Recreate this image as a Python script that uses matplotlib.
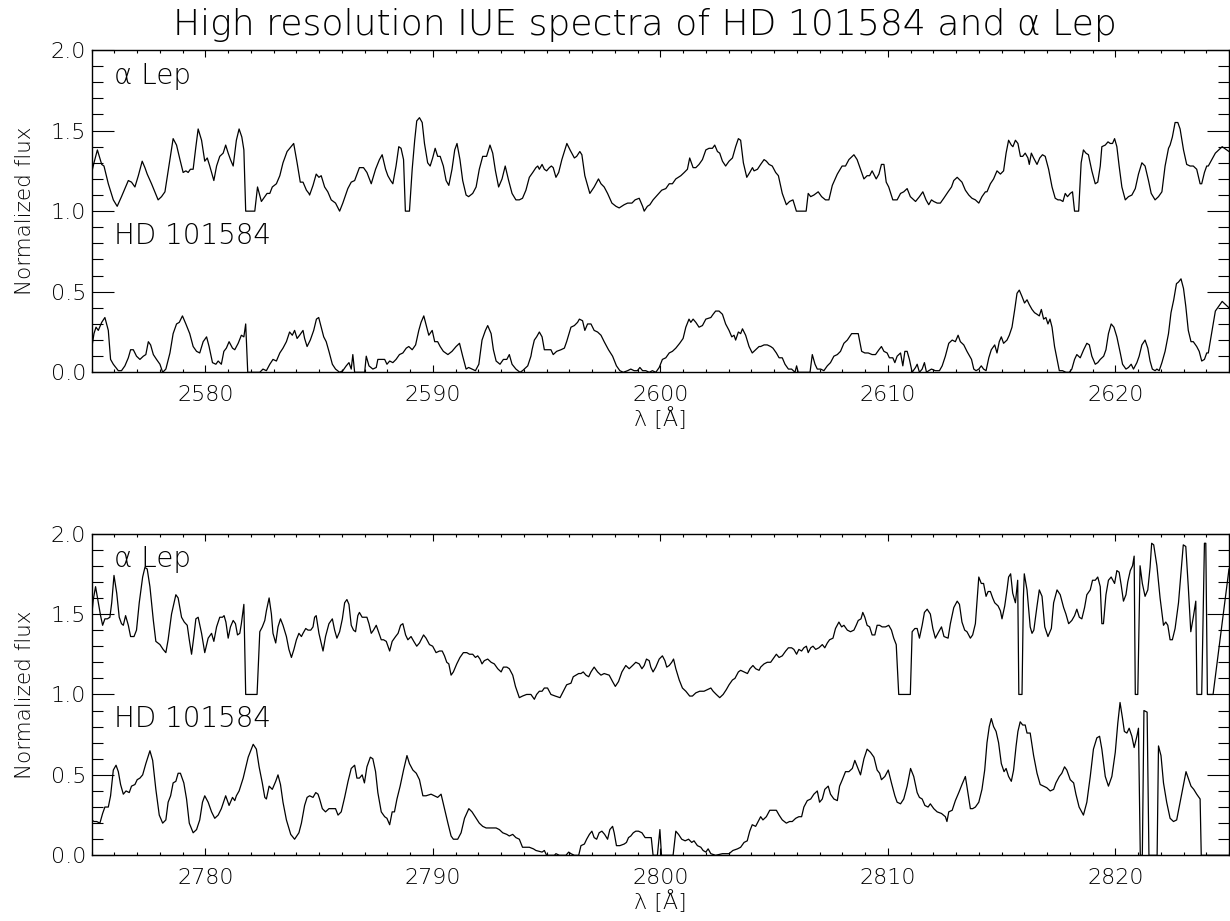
import numpy as np
import matplotlib
matplotlib.use("Agg")
import matplotlib.pyplot as plt
from matplotlib.ticker import MultipleLocator, FormatStrFormatter

# ---------------- text ----------------
title = "High resolution IUE spectra of HD 101584 and α Lep"
star_names = ["α Lep", "HD 101584"]
y_label = "Normalized flux"
x_label = "λ [Å]"
x_ranges = [(2575, 2625), (2775, 2825)]

# ---------------- data: (wavelength [Å], normalized flux) ----------------
alpha_lep_2600 = [
    (2575.00,1.24),(2575.10,1.30),(2575.25,1.38),(2575.44,1.29),(2575.54,1.28),(2575.73,1.17),(2575.95,1.07),(2576.12,1.03),
    (2576.31,1.09),(2576.61,1.19),(2576.75,1.18),(2576.90,1.15),(2577.05,1.22),(2577.22,1.31),(2577.34,1.27),(2577.44,1.23),
    (2577.63,1.17),(2577.92,1.07),(2578.07,1.09),(2578.22,1.12),(2578.44,1.32),(2578.58,1.45),(2578.73,1.41),(2578.88,1.32),
    (2579.02,1.24),(2579.14,1.25),(2579.24,1.24),(2579.34,1.26),(2579.46,1.26),(2579.58,1.40),(2579.68,1.51),(2579.83,1.44),
    (2579.97,1.31),(2580.08,1.33),(2580.19,1.28),(2580.37,1.19),(2580.49,1.28),(2580.63,1.34),(2580.78,1.36),(2580.89,1.41),
    (2581.00,1.36),(2581.10,1.32),(2581.22,1.28),(2581.36,1.44),(2581.48,1.51),(2581.60,1.46),(2581.69,1.38),(2581.77,1.00),
    (2582.17,1.00),(2582.29,1.15),(2582.46,1.06),(2582.61,1.09),(2582.71,1.11),(2582.83,1.11),(2582.94,1.15),(2583.12,1.17),
    (2583.27,1.22),(2583.41,1.30),(2583.59,1.37),(2583.88,1.42),(2584.03,1.30),(2584.17,1.18),(2584.29,1.18),(2584.44,1.13),
    (2584.55,1.11),(2584.58,1.10),(2584.73,1.16),(2584.87,1.23),(2584.99,1.21),(2585.09,1.22),(2585.24,1.15),(2585.38,1.12),
    (2585.53,1.07),(2585.72,1.05),(2585.90,1.00),(2586.04,1.05),(2586.26,1.14),(2586.41,1.18),(2586.56,1.19),(2586.77,1.27),
    (2586.95,1.27),(2587.10,1.24),(2587.29,1.17),(2587.48,1.26),(2587.65,1.32),(2587.77,1.35),(2587.92,1.26),(2588.02,1.22),
    (2588.14,1.19),(2588.24,1.17),(2588.38,1.28),(2588.50,1.40),(2588.60,1.39),(2588.71,1.32),(2588.79,1.00),(2588.97,1.00),
    (2589.09,1.26),(2589.20,1.44),(2589.29,1.56),(2589.41,1.58),(2589.53,1.55),(2589.63,1.42),(2589.77,1.30),(2589.88,1.28),
    (2589.99,1.33),(2590.10,1.39),(2590.21,1.34),(2590.32,1.34),(2590.46,1.28),(2590.58,1.19),(2590.70,1.16),(2590.84,1.26),
    (2590.96,1.38),(2591.06,1.42),(2591.19,1.32),(2591.31,1.19),(2591.46,1.10),(2591.57,1.09),(2591.75,1.11),(2591.90,1.15),
    (2592.04,1.26),(2592.19,1.34),(2592.36,1.34),(2592.51,1.41),(2592.63,1.36),(2592.75,1.25),(2592.89,1.15),(2593.04,1.20),
    (2593.18,1.28),(2593.33,1.19),(2593.48,1.11),(2593.65,1.07),(2593.80,1.07),(2593.94,1.08),(2594.09,1.13),(2594.24,1.21),
    (2594.39,1.24),(2594.53,1.27),(2594.61,1.28),(2594.68,1.26),(2594.80,1.29),(2594.90,1.26),(2595.00,1.25),(2595.12,1.27),
    (2595.21,1.28),(2595.29,1.27),(2595.41,1.21),(2595.53,1.24),(2595.67,1.32),(2595.89,1.42),(2596.03,1.38),(2596.22,1.33),
    (2596.32,1.34),(2596.46,1.37),(2596.55,1.35),(2596.68,1.22),(2596.90,1.11),(2597.09,1.15),(2597.28,1.20),(2597.39,1.17),
    (2597.53,1.15),(2597.68,1.11),(2597.87,1.05),(2598.05,1.03),(2598.19,1.02),(2598.41,1.04),(2598.56,1.05),(2598.75,1.05),
    (2598.89,1.07),(2599.07,1.08),(2599.22,1.03),(2599.29,1.00),(2599.43,1.03),(2599.54,1.04),(2599.68,1.07),(2599.87,1.10),
    (2600.06,1.13),(2600.24,1.14),(2600.39,1.17),(2600.53,1.17),(2600.68,1.20),(2600.90,1.22),(2601.05,1.24),(2601.19,1.26),
    (2601.29,1.33),(2601.44,1.27),(2601.56,1.27),(2601.70,1.29),(2601.85,1.32),(2602.00,1.38),(2602.14,1.39),(2602.29,1.39),
    (2602.39,1.41),(2602.51,1.37),(2602.61,1.36),(2602.73,1.31),(2602.87,1.28),(2603.02,1.31),(2603.17,1.33),(2603.31,1.40),
    (2603.43,1.45),(2603.53,1.44),(2603.65,1.30),(2603.80,1.21),(2603.93,1.24),(2604.05,1.27),(2604.12,1.25),(2604.27,1.26),
    (2604.41,1.29),(2604.56,1.32),(2604.66,1.31),(2604.78,1.29),(2604.92,1.28),(2605.07,1.24),(2605.19,1.22),(2605.36,1.11),
    (2605.54,1.04),(2605.68,1.06),(2605.83,1.07),(2605.98,1.00),(2606.41,1.00),(2606.50,1.11),(2606.61,1.09),(2606.75,1.10),
    (2606.94,1.12),(2607.09,1.09),(2607.26,1.07),(2607.41,1.07),(2607.56,1.16),(2607.78,1.23),(2607.99,1.28),(2608.14,1.28),
    (2608.29,1.32),(2608.51,1.35),(2608.65,1.32),(2608.80,1.26),(2608.95,1.20),(2609.09,1.22),(2609.20,1.22),(2609.31,1.25),
    (2609.49,1.20),(2609.61,1.23),(2609.72,1.29),(2609.83,1.29),(2609.93,1.18),(2610.04,1.15),(2610.22,1.07),(2610.41,1.07),
    (2610.56,1.11),(2610.70,1.12),(2610.85,1.14),(2610.99,1.09),(2611.22,1.06),(2611.39,1.09),(2611.54,1.12),(2611.68,1.07),
    (2611.80,1.04),(2611.92,1.07),(2612.02,1.06),(2612.17,1.05),(2612.31,1.05),(2612.46,1.08),(2612.65,1.12),(2612.80,1.15),
    (2612.90,1.19),(2613.05,1.21),(2613.26,1.18),(2613.41,1.13),(2613.56,1.10),(2613.70,1.08),(2613.85,1.07),(2614.00,1.05),
    (2614.14,1.09),(2614.29,1.12),(2614.36,1.12),(2614.51,1.17),(2614.65,1.20),(2614.80,1.25),(2614.95,1.23),(2615.09,1.25),
    (2615.20,1.36),(2615.31,1.44),(2615.43,1.41),(2615.50,1.40),(2615.61,1.44),(2615.72,1.42),(2615.83,1.34),(2615.93,1.34),
    (2616.04,1.36),(2616.16,1.33),(2616.22,1.29),(2616.31,1.36),(2616.41,1.33),(2616.56,1.29),(2616.68,1.33),(2616.80,1.35),
    (2616.92,1.34),(2617.07,1.26),(2617.22,1.15),(2617.36,1.08),(2617.48,1.07),(2617.58,1.07),(2617.70,1.06),(2617.80,1.11),
    (2617.90,1.09),(2618.02,1.11),(2618.12,1.12),(2618.21,1.00),(2618.39,1.00),(2618.50,1.30),(2618.60,1.38),(2618.71,1.36),
    (2618.82,1.35),(2618.97,1.25),(2619.12,1.17),(2619.23,1.18),(2619.34,1.28),(2619.41,1.40),(2619.56,1.41),(2619.68,1.43),
    (2619.78,1.42),(2619.88,1.42),(2619.97,1.45),(2620.07,1.40),(2620.17,1.28),(2620.29,1.15),(2620.44,1.07),(2620.58,1.09),
    (2620.73,1.10),(2620.88,1.14),(2621.02,1.23),(2621.17,1.30),(2621.31,1.28),(2621.46,1.19),(2621.58,1.11),(2621.75,1.07),
    (2621.90,1.09),(2622.05,1.12),(2622.19,1.28),(2622.34,1.39),(2622.41,1.41),(2622.51,1.46),(2622.63,1.55),(2622.75,1.55),
    (2622.85,1.51),(2623.00,1.38),(2623.14,1.29),(2623.29,1.28),(2623.43,1.28),(2623.58,1.26),(2623.73,1.17),(2623.80,1.17),
    (2623.92,1.24),(2624.02,1.28),(2624.09,1.28),(2624.40,1.36),(2624.70,1.40),(2625.00,1.37),
]

hd101584_2600 = [
    (2575.00,0.15),(2575.10,0.24),(2575.19,0.28),(2575.29,0.26),(2575.44,0.31),(2575.58,0.34),(2575.73,0.26),(2575.83,0.08),
    (2575.95,0.05),(2576.17,0.01),(2576.31,0.01),(2576.46,0.04),(2576.61,0.09),(2576.71,0.14),(2576.83,0.14),(2576.97,0.10),
    (2577.12,0.08),(2577.27,0.10),(2577.38,0.11),(2577.49,0.19),(2577.59,0.17),(2577.71,0.11),(2577.85,0.08),(2578.00,0.05),
    (2578.12,0.00),(2578.26,0.02),(2578.44,0.12),(2578.58,0.24),(2578.73,0.30),(2578.85,0.31),(2578.99,0.35),(2579.14,0.30),
    (2579.31,0.24),(2579.46,0.16),(2579.61,0.13),(2579.75,0.12),(2579.90,0.19),(2580.05,0.22),(2580.16,0.16),(2580.31,0.06),
    (2580.46,0.05),(2580.56,0.07),(2580.70,0.05),(2580.81,0.13),(2580.92,0.15),(2581.04,0.19),(2581.19,0.15),(2581.29,0.14),
    (2581.44,0.18),(2581.58,0.23),(2581.69,0.22),(2581.77,0.30),(2581.86,0.00),(2582.39,0.00),(2582.53,0.02),(2582.68,0.01),
    (2582.83,0.05),(2582.97,0.08),(2583.12,0.07),(2583.27,0.12),(2583.41,0.15),(2583.56,0.19),(2583.70,0.25),(2583.82,0.23),
    (2583.92,0.26),(2584.03,0.21),(2584.14,0.23),(2584.29,0.26),(2584.36,0.21),(2584.47,0.16),(2584.61,0.20),(2584.76,0.26),
    (2584.88,0.33),(2584.98,0.34),(2585.09,0.28),(2585.20,0.22),(2585.31,0.19),(2585.43,0.13),(2585.58,0.05),(2585.72,0.02),
    (2585.90,0.00),(2586.04,0.01),(2586.19,0.04),(2586.31,0.06),(2586.41,0.02),(2586.48,0.11),(2586.56,0.00),(2587.00,0.00),
    (2587.07,0.10),(2587.19,0.04),(2587.36,0.02),(2587.51,0.03),(2587.58,0.08),(2587.73,0.08),(2587.88,0.08),(2587.98,0.05),
    (2588.10,0.07),(2588.24,0.06),(2588.38,0.08),(2588.53,0.11),(2588.68,0.12),(2588.83,0.15),(2588.94,0.16),(2589.09,0.14),
    (2589.24,0.17),(2589.38,0.26),(2589.48,0.31),(2589.60,0.35),(2589.73,0.28),(2589.82,0.23),(2589.97,0.26),(2590.08,0.19),
    (2590.21,0.19),(2590.32,0.16),(2590.46,0.13),(2590.66,0.11),(2590.84,0.13),(2591.02,0.16),(2591.17,0.18),(2591.31,0.10),
    (2591.46,0.02),(2591.57,0.03),(2591.72,0.02),(2591.87,0.01),(2592.02,0.05),(2592.16,0.20),(2592.31,0.26),(2592.41,0.29),
    (2592.56,0.24),(2592.66,0.14),(2592.78,0.07),(2592.95,0.05),(2593.10,0.08),(2593.25,0.08),(2593.36,0.11),(2593.48,0.05),
    (2593.65,0.02),(2593.83,0.00),(2593.94,0.01),(2594.17,0.04),(2594.31,0.10),(2594.36,0.14),(2594.46,0.20),(2594.56,0.22),
    (2594.68,0.25),(2594.80,0.22),(2594.90,0.14),(2595.04,0.14),(2595.19,0.14),(2595.29,0.11),(2595.44,0.13),(2595.63,0.14),
    (2595.78,0.15),(2595.88,0.19),(2596.07,0.28),(2596.22,0.29),(2596.36,0.31),(2596.44,0.33),(2596.58,0.32),(2596.68,0.26),
    (2596.80,0.30),(2596.95,0.30),(2597.09,0.26),(2597.24,0.25),(2597.39,0.23),(2597.53,0.19),(2597.72,0.14),(2597.90,0.10),
    (2598.07,0.04),(2598.22,0.01),(2598.37,0.00),(2598.56,0.01),(2598.70,0.02),(2598.85,0.01),(2598.99,0.01),(2599.10,0.03),
    (2599.22,0.01),(2599.36,0.01),(2599.51,0.00),(2599.65,0.01),(2599.80,0.00),(2599.95,0.03),(2600.09,0.08),(2600.24,0.09),
    (2600.39,0.12),(2600.53,0.13),(2600.68,0.15),(2600.85,0.18),(2601.00,0.21),(2601.12,0.28),(2601.26,0.33),(2601.34,0.31),
    (2601.44,0.33),(2601.56,0.31),(2601.70,0.28),(2601.85,0.29),(2602.00,0.33),(2602.22,0.34),(2602.32,0.36),(2602.43,0.38),
    (2602.58,0.38),(2602.73,0.36),(2602.87,0.30),(2603.02,0.26),(2603.14,0.22),(2603.24,0.23),(2603.31,0.20),(2603.43,0.25),
    (2603.53,0.24),(2603.61,0.27),(2603.75,0.23),(2603.90,0.16),(2604.04,0.12),(2604.19,0.14),(2604.34,0.16),(2604.41,0.16),
    (2604.56,0.17),(2604.70,0.17),(2604.85,0.16),(2604.95,0.15),(2605.10,0.12),(2605.22,0.09),(2605.36,0.09),(2605.48,0.05),
    (2605.63,0.02),(2605.77,0.02),(2605.92,0.00),(2605.99,0.04),(2606.06,0.00),(2606.58,0.00),(2606.68,0.11),(2606.80,0.05),
    (2606.90,0.02),(2607.05,0.02),(2607.19,0.01),(2607.34,0.04),(2607.48,0.06),(2607.63,0.10),(2607.78,0.11),(2607.92,0.13),
    (2608.07,0.18),(2608.22,0.20),(2608.41,0.24),(2608.55,0.24),(2608.70,0.24),(2608.85,0.13),(2608.99,0.12),(2609.14,0.12),
    (2609.31,0.11),(2609.46,0.11),(2609.61,0.14),(2609.72,0.16),(2609.83,0.13),(2609.97,0.12),(2610.07,0.09),(2610.22,0.09),
    (2610.31,0.06),(2610.41,0.10),(2610.56,0.12),(2610.66,0.04),(2610.75,0.13),(2610.85,0.13),(2610.95,0.08),(2611.07,0.00),
    (2611.22,0.03),(2611.29,0.05),(2611.39,0.00),(2611.51,0.02),(2611.61,0.06),(2611.70,0.00),(2611.80,0.01),(2611.92,0.02),
    (2612.09,0.01),(2612.27,0.01),(2612.39,0.04),(2612.53,0.10),(2612.68,0.18),(2612.83,0.20),(2612.97,0.19),(2613.09,0.23),
    (2613.19,0.19),(2613.34,0.17),(2613.48,0.13),(2613.68,0.08),(2613.78,0.02),(2613.88,0.01),(2614.00,0.02),(2614.11,0.04),
    (2614.21,0.02),(2614.32,0.01),(2614.44,0.09),(2614.55,0.14),(2614.70,0.17),(2614.80,0.12),(2614.90,0.19),(2614.99,0.22),
    (2615.09,0.18),(2615.24,0.20),(2615.34,0.23),(2615.46,0.28),(2615.58,0.39),(2615.68,0.49),(2615.78,0.51),(2615.90,0.47),
    (2616.01,0.43),(2616.12,0.45),(2616.22,0.42),(2616.34,0.39),(2616.45,0.37),(2616.56,0.36),(2616.66,0.35),(2616.75,0.39),
    (2616.85,0.33),(2616.95,0.34),(2617.04,0.30),(2617.13,0.33),(2617.22,0.28),(2617.33,0.16),(2617.44,0.08),(2617.54,0.01),
    (2617.68,0.01),(2617.83,0.00),(2617.98,0.00),(2618.09,0.02),(2618.21,0.08),(2618.31,0.11),(2618.46,0.09),(2618.61,0.14),
    (2618.75,0.18),(2618.86,0.17),(2618.97,0.10),(2619.12,0.05),(2619.23,0.06),(2619.34,0.08),(2619.49,0.10),(2619.59,0.14),
    (2619.70,0.24),(2619.82,0.30),(2619.94,0.28),(2620.07,0.22),(2620.22,0.12),(2620.32,0.05),(2620.47,0.02),(2620.58,0.03),
    (2620.70,0.05),(2620.80,0.02),(2620.95,0.06),(2621.05,0.10),(2621.17,0.17),(2621.31,0.20),(2621.43,0.15),(2621.53,0.07),
    (2621.63,0.02),(2621.75,0.01),(2621.83,0.02),(2621.93,0.01),(2622.05,0.06),(2622.19,0.13),(2622.34,0.24),(2622.45,0.37),
    (2622.57,0.45),(2622.69,0.55),(2622.78,0.56),(2622.89,0.58),(2623.00,0.52),(2623.10,0.41),(2623.21,0.26),(2623.33,0.19),
    (2623.43,0.19),(2623.58,0.16),(2623.69,0.13),(2623.80,0.07),(2623.92,0.08),(2624.02,0.12),(2624.09,0.12),(2624.40,0.38),
    (2624.70,0.44),(2625.00,0.40),
]

alpha_lep_2800 = [
    (2775.00,1.49),(2775.07,1.59),(2775.17,1.67),(2775.29,1.57),(2775.39,1.49),(2775.48,1.43),(2775.58,1.47),(2775.69,1.47),
    (2775.80,1.48),(2775.88,1.57),(2775.98,1.74),(2776.10,1.63),(2776.21,1.48),(2776.31,1.44),(2776.39,1.43),(2776.49,1.49),
    (2776.61,1.43),(2776.71,1.36),(2776.86,1.36),(2776.97,1.40),(2777.09,1.57),(2777.24,1.73),(2777.34,1.79),(2777.44,1.78),
    (2777.56,1.67),(2777.71,1.46),(2777.82,1.33),(2778.00,1.31),(2778.14,1.28),(2778.26,1.26),(2778.36,1.34),(2778.51,1.50),
    (2778.70,1.62),(2778.80,1.60),(2778.95,1.48),(2779.07,1.45),(2779.20,1.43),(2779.29,1.34),(2779.39,1.25),(2779.49,1.36),
    (2779.58,1.47),(2779.68,1.48),(2779.83,1.38),(2779.97,1.26),(2780.12,1.35),(2780.27,1.38),(2780.37,1.33),(2780.49,1.42),
    (2780.63,1.48),(2780.75,1.48),(2780.82,1.49),(2780.90,1.45),(2781.00,1.35),(2781.10,1.42),(2781.22,1.46),(2781.32,1.44),
    (2781.41,1.37),(2781.51,1.38),(2781.58,1.44),(2781.69,1.56),(2781.77,1.00),(2782.27,1.00),(2782.39,1.39),(2782.50,1.42),
    (2782.61,1.46),(2782.68,1.52),(2782.80,1.60),(2782.90,1.50),(2782.97,1.38),(2783.09,1.32),(2783.19,1.42),(2783.30,1.47),
    (2783.41,1.43),(2783.56,1.36),(2783.67,1.28),(2783.78,1.23),(2783.89,1.28),(2784.00,1.34),(2784.11,1.38),(2784.22,1.36),
    (2784.29,1.38),(2784.41,1.41),(2784.51,1.40),(2784.63,1.40),(2784.73,1.42),(2784.80,1.48),(2784.87,1.49),(2784.99,1.38),
    (2785.17,1.27),(2785.28,1.36),(2785.43,1.44),(2785.58,1.47),(2785.68,1.40),(2785.78,1.35),(2785.90,1.39),(2786.02,1.47),
    (2786.12,1.57),(2786.22,1.59),(2786.31,1.56),(2786.41,1.43),(2786.51,1.40),(2786.60,1.39),(2786.70,1.49),(2786.77,1.51),
    (2786.89,1.48),(2786.99,1.48),(2787.10,1.48),(2787.19,1.44),(2787.29,1.38),(2787.39,1.40),(2787.51,1.43),(2787.63,1.38),
    (2787.73,1.34),(2787.83,1.34),(2787.95,1.33),(2788.10,1.27),(2788.21,1.33),(2788.36,1.36),(2788.47,1.38),(2788.58,1.43),
    (2788.68,1.44),(2788.80,1.37),(2788.90,1.34),(2789.04,1.36),(2789.16,1.33),(2789.29,1.30),(2789.41,1.32),(2789.59,1.37),
    (2789.70,1.35),(2789.85,1.31),(2789.99,1.30),(2790.14,1.26),(2790.29,1.27),(2790.41,1.27),(2790.51,1.24),(2790.61,1.20),
    (2790.70,1.19),(2790.80,1.12),(2790.90,1.14),(2791.05,1.19),(2791.19,1.23),(2791.34,1.26),(2791.49,1.26),(2791.61,1.25),
    (2791.75,1.25),(2791.87,1.23),(2791.97,1.24),(2792.07,1.22),(2792.16,1.19),(2792.26,1.21),(2792.41,1.22),(2792.56,1.20),
    (2792.70,1.19),(2792.85,1.16),(2793.00,1.14),(2793.10,1.17),(2793.25,1.17),(2793.36,1.16),(2793.51,1.12),(2793.63,1.05),
    (2793.80,0.98),(2793.94,0.99),(2794.12,1.00),(2794.31,1.00),(2794.36,0.99),(2794.46,0.97),(2794.56,1.00),(2794.68,1.02),
    (2794.80,1.02),(2794.90,1.04),(2795.04,1.04),(2795.19,1.00),(2795.38,0.99),(2795.59,0.98),(2795.70,1.01),(2795.88,1.06),
    (2796.07,1.07),(2796.17,1.11),(2796.29,1.12),(2796.41,1.13),(2796.51,1.13),(2796.61,1.14),(2796.73,1.12),(2796.85,1.11),
    (2796.95,1.14),(2797.09,1.17),(2797.24,1.14),(2797.39,1.12),(2797.53,1.13),(2797.75,1.12),(2797.90,1.08),(2798.02,1.05),
    (2798.16,1.08),(2798.31,1.14),(2798.48,1.18),(2798.63,1.16),(2798.78,1.18),(2798.92,1.20),(2799.07,1.19),(2799.19,1.16),
    (2799.29,1.18),(2799.39,1.22),(2799.51,1.21),(2799.58,1.17),(2799.68,1.14),(2799.80,1.17),(2799.95,1.22),(2800.09,1.24),
    (2800.20,1.21),(2800.28,1.17),(2800.39,1.18),(2800.50,1.20),(2800.58,1.22),(2800.68,1.16),(2800.83,1.09),(2800.97,1.04),
    (2801.12,1.02),(2801.29,0.99),(2801.41,0.99),(2801.56,1.01),(2801.73,1.02),(2801.92,1.02),(2802.07,1.03),(2802.22,1.04),
    (2802.32,1.02),(2802.46,1.00),(2802.61,0.98),(2802.76,1.00),(2802.90,1.03),(2803.02,1.06),(2803.17,1.09),(2803.28,1.10),
    (2803.43,1.14),(2803.53,1.15),(2803.68,1.14),(2803.83,1.13),(2803.94,1.16),(2804.07,1.18),(2804.19,1.16),(2804.34,1.15),
    (2804.41,1.17),(2804.56,1.19),(2804.70,1.20),(2804.85,1.20),(2805.00,1.23),(2805.10,1.25),(2805.22,1.23),(2805.36,1.24),
    (2805.51,1.27),(2805.63,1.29),(2805.77,1.29),(2805.87,1.28),(2805.99,1.25),(2806.09,1.28),(2806.21,1.27),(2806.31,1.29),
    (2806.42,1.30),(2806.50,1.26),(2806.61,1.29),(2806.71,1.30),(2806.83,1.28),(2806.97,1.29),(2807.12,1.31),(2807.23,1.29),
    (2807.34,1.32),(2807.44,1.34),(2807.59,1.35),(2807.70,1.41),(2807.85,1.45),(2807.97,1.42),(2808.07,1.43),(2808.22,1.40),
    (2808.36,1.39),(2808.51,1.40),(2808.61,1.43),(2808.70,1.46),(2808.82,1.47),(2808.90,1.51),(2808.99,1.48),(2809.09,1.43),
    (2809.20,1.42),(2809.31,1.37),(2809.43,1.37),(2809.53,1.43),(2809.64,1.43),(2809.75,1.42),(2809.90,1.42),(2810.04,1.43),
    (2810.16,1.40),(2810.26,1.35),(2810.37,1.31),(2810.48,1.00),(2810.99,1.00),(2811.07,1.39),(2811.19,1.41),(2811.29,1.41),
    (2811.39,1.35),(2811.51,1.43),(2811.61,1.51),(2811.73,1.53),(2811.87,1.50),(2811.98,1.41),(2812.09,1.35),(2812.24,1.39),
    (2812.36,1.42),(2812.47,1.36),(2812.65,1.35),(2812.75,1.44),(2812.90,1.54),(2813.05,1.58),(2813.15,1.56),(2813.26,1.45),
    (2813.38,1.40),(2813.48,1.39),(2813.63,1.35),(2813.73,1.37),(2813.85,1.44),(2813.94,1.61),(2814.00,1.73),(2814.11,1.69),
    (2814.21,1.69),(2814.32,1.61),(2814.41,1.64),(2814.51,1.64),(2814.61,1.60),(2814.70,1.57),(2814.85,1.55),(2814.95,1.52),
    (2815.02,1.47),(2815.14,1.55),(2815.24,1.65),(2815.31,1.73),(2815.40,1.75),(2815.49,1.63),(2815.61,1.57),(2815.71,1.71),
    (2815.76,1.00),(2815.90,1.00),(2815.96,1.60),(2816.00,1.75),(2816.12,1.65),(2816.26,1.42),(2816.34,1.38),(2816.42,1.40),
    (2816.56,1.55),(2816.66,1.65),(2816.78,1.61),(2816.90,1.42),(2817.04,1.36),(2817.19,1.41),(2817.29,1.57),(2817.44,1.65),
    (2817.58,1.62),(2817.73,1.54),(2817.83,1.50),(2817.95,1.44),(2818.09,1.46),(2818.21,1.49),(2818.31,1.53),(2818.42,1.48),
    (2818.53,1.47),(2818.65,1.54),(2818.75,1.62),(2818.90,1.65),(2819.00,1.71),(2819.12,1.71),(2819.23,1.73),(2819.34,1.67),
    (2819.41,1.44),(2819.48,1.44),(2819.59,1.62),(2819.70,1.71),(2819.82,1.73),(2819.97,1.69),(2820.07,1.77),(2820.17,1.76),
    (2820.26,1.68),(2820.36,1.58),(2820.47,1.62),(2820.55,1.70),(2820.66,1.77),(2820.76,1.80),(2820.83,1.86),(2820.88,1.00),
    (2820.99,1.00),(2821.09,1.80),(2821.19,1.69),(2821.31,1.61),(2821.43,1.65),(2821.53,1.79),(2821.60,1.94),(2821.69,1.93),
    (2821.83,1.80),(2821.97,1.60),(2822.12,1.43),(2822.22,1.45),(2822.31,1.43),(2822.41,1.34),(2822.51,1.34),(2822.63,1.41),
    (2822.78,1.57),(2822.92,1.81),(2822.99,1.93),(2823.10,1.92),(2823.21,1.67),(2823.32,1.39),(2823.43,1.48),(2823.54,1.58),
    (2823.59,1.00),(2823.80,1.00),(2823.92,1.94),(2823.98,1.94),(2824.05,1.00),(2824.30,1.00),(2825.00,1.78),
]

hd101584_2800 = [
    (2775.00,0.22),(2775.10,0.21),(2775.22,0.21),(2775.36,0.20),(2775.48,0.26),(2775.58,0.30),(2775.73,0.30),(2775.83,0.37),
    (2775.95,0.53),(2776.07,0.56),(2776.17,0.52),(2776.27,0.44),(2776.39,0.38),(2776.51,0.40),(2776.65,0.39),(2776.75,0.43),
    (2776.90,0.44),(2777.00,0.47),(2777.12,0.48),(2777.24,0.50),(2777.38,0.57),(2777.56,0.65),(2777.68,0.59),(2777.82,0.41),
    (2777.97,0.25),(2778.12,0.20),(2778.26,0.22),(2778.36,0.33),(2778.47,0.37),(2778.58,0.45),(2778.70,0.46),(2778.80,0.51),
    (2778.90,0.51),(2779.05,0.45),(2779.17,0.35),(2779.29,0.20),(2779.46,0.14),(2779.61,0.16),(2779.75,0.22),(2779.87,0.33),
    (2779.97,0.37),(2780.12,0.33),(2780.27,0.27),(2780.41,0.23),(2780.56,0.25),(2780.70,0.29),(2780.89,0.37),(2781.04,0.31),
    (2781.19,0.36),(2781.29,0.34),(2781.36,0.37),(2781.48,0.40),(2781.66,0.48),(2781.88,0.61),(2782.10,0.69),(2782.24,0.66),
    (2782.36,0.55),(2782.50,0.45),(2782.61,0.36),(2782.68,0.35),(2782.80,0.43),(2782.94,0.41),(2783.09,0.46),(2783.19,0.50),
    (2783.30,0.44),(2783.41,0.33),(2783.56,0.22),(2783.75,0.13),(2783.92,0.10),(2784.11,0.14),(2784.22,0.20),(2784.36,0.31),
    (2784.47,0.36),(2784.58,0.37),(2784.73,0.36),(2784.85,0.39),(2784.95,0.38),(2785.02,0.35),(2785.14,0.29),(2785.28,0.27),
    (2785.43,0.29),(2785.58,0.29),(2785.72,0.29),(2785.83,0.25),(2785.97,0.27),(2786.12,0.36),(2786.27,0.46),(2786.41,0.54),
    (2786.56,0.56),(2786.66,0.48),(2786.77,0.48),(2786.89,0.50),(2786.99,0.45),(2787.10,0.55),(2787.25,0.61),(2787.36,0.60),
    (2787.48,0.52),(2787.58,0.39),(2787.73,0.27),(2787.88,0.24),(2787.98,0.23),(2788.10,0.19),(2788.21,0.27),(2788.31,0.27),
    (2788.42,0.35),(2788.56,0.43),(2788.71,0.53),(2788.86,0.62),(2788.97,0.57),(2789.12,0.53),(2789.27,0.51),(2789.41,0.47),
    (2789.56,0.37),(2789.70,0.37),(2789.92,0.38),(2790.07,0.37),(2790.21,0.36),(2790.36,0.38),(2790.51,0.29),(2790.66,0.20),
    (2790.80,0.12),(2790.90,0.10),(2791.09,0.10),(2791.24,0.14),(2791.39,0.23),(2791.58,0.29),(2791.72,0.27),(2791.90,0.23),
    (2792.04,0.20),(2792.19,0.18),(2792.34,0.17),(2792.49,0.17),(2792.63,0.17),(2792.78,0.17),(2792.92,0.16),(2793.07,0.14),
    (2793.25,0.13),(2793.36,0.12),(2793.51,0.13),(2793.65,0.11),(2793.80,0.10),(2793.94,0.05),(2794.09,0.05),(2794.24,0.05),
    (2794.42,0.04),(2794.53,0.03),(2794.80,0.02),(2794.90,0.03),(2795.00,0.00),(2795.12,0.00),(2795.34,0.00),(2795.41,0.01),
    (2795.56,0.00),(2795.70,0.00),(2795.85,0.00),(2795.97,0.02),(2796.07,0.01),(2796.22,0.00),(2796.41,0.00),(2796.51,0.06),
    (2796.66,0.07),(2796.76,0.10),(2796.88,0.13),(2796.99,0.15),(2797.09,0.11),(2797.20,0.10),(2797.31,0.14),(2797.43,0.15),
    (2797.55,0.13),(2797.68,0.10),(2797.78,0.16),(2797.90,0.18),(2797.97,0.14),(2798.07,0.06),(2798.22,0.06),(2798.41,0.07),
    (2798.51,0.08),(2798.60,0.11),(2798.70,0.12),(2798.81,0.14),(2798.92,0.15),(2799.04,0.15),(2799.19,0.14),(2799.33,0.11),
    (2799.48,0.11),(2799.60,0.11),(2799.68,0.00),(2799.87,0.00),(2799.98,0.16),(2800.05,0.00),(2800.56,0.00),(2800.68,0.15),
    (2800.80,0.13),(2800.94,0.10),(2801.09,0.09),(2801.24,0.10),(2801.38,0.08),(2801.48,0.09),(2801.63,0.06),(2801.78,0.05),
    (2801.88,0.03),(2802.00,0.02),(2802.10,0.04),(2802.22,0.01),(2802.43,0.00),(2802.73,0.01),(2803.02,0.01),(2803.19,0.03),
    (2803.39,0.04),(2803.53,0.05),(2803.68,0.08),(2803.82,0.09),(2803.93,0.15),(2804.04,0.19),(2804.19,0.18),(2804.34,0.22),
    (2804.41,0.24),(2804.51,0.22),(2804.66,0.24),(2804.81,0.28),(2805.00,0.28),(2805.10,0.28),(2805.22,0.25),(2805.36,0.22),
    (2805.54,0.20),(2805.68,0.21),(2805.80,0.21),(2805.95,0.23),(2806.09,0.24),(2806.21,0.24),(2806.31,0.30),(2806.46,0.34),
    (2806.61,0.35),(2806.75,0.38),(2806.90,0.40),(2807.00,0.33),(2807.12,0.35),(2807.23,0.41),(2807.38,0.43),(2807.48,0.38),
    (2807.63,0.35),(2807.78,0.34),(2807.88,0.43),(2808.00,0.47),(2808.14,0.52),(2808.29,0.52),(2808.44,0.54),(2808.55,0.59),
    (2808.66,0.55),(2808.80,0.50),(2808.95,0.60),(2809.09,0.66),(2809.24,0.64),(2809.39,0.61),(2809.53,0.53),(2809.64,0.51),
    (2809.72,0.47),(2809.87,0.49),(2810.02,0.53),(2810.16,0.45),(2810.31,0.37),(2810.41,0.33),(2810.56,0.32),(2810.70,0.35),
    (2810.85,0.43),(2811.00,0.54),(2811.14,0.49),(2811.29,0.39),(2811.39,0.36),(2811.51,0.35),(2811.63,0.31),(2811.77,0.30),
    (2811.87,0.32),(2812.02,0.29),(2812.17,0.27),(2812.36,0.26),(2812.53,0.24),(2812.60,0.21),(2812.68,0.27),(2812.83,0.28),
    (2812.97,0.34),(2813.12,0.39),(2813.26,0.44),(2813.41,0.49),(2813.53,0.38),(2813.63,0.29),(2813.73,0.29),(2813.85,0.30),
    (2814.00,0.33),(2814.14,0.41),(2814.26,0.53),(2814.36,0.70),(2814.46,0.80),(2814.55,0.85),(2814.65,0.80),(2814.76,0.77),
    (2814.87,0.70),(2814.99,0.57),(2815.11,0.52),(2815.20,0.54),(2815.31,0.49),(2815.43,0.46),(2815.53,0.53),(2815.64,0.68),
    (2815.72,0.77),(2815.82,0.83),(2815.93,0.81),(2816.04,0.81),(2816.12,0.76),(2816.26,0.76),(2816.41,0.62),(2816.56,0.51),
    (2816.70,0.44),(2816.85,0.43),(2816.99,0.42),(2817.14,0.40),(2817.29,0.41),(2817.39,0.45),(2817.54,0.49),(2817.65,0.51),
    (2817.77,0.55),(2817.87,0.53),(2818.02,0.47),(2818.17,0.45),(2818.27,0.38),(2818.41,0.30),(2818.60,0.25),(2818.75,0.33),
    (2818.90,0.49),(2819.04,0.66),(2819.19,0.73),(2819.31,0.74),(2819.41,0.66),(2819.56,0.49),(2819.70,0.43),(2819.85,0.49),
    (2820.00,0.64),(2820.11,0.82),(2820.21,0.95),(2820.32,0.85),(2820.40,0.77),(2820.51,0.76),(2820.61,0.79),(2820.73,0.74),
    (2820.83,0.67),(2820.95,0.74),(2821.02,0.79),(2821.10,0.00),(2821.19,0.00),(2821.26,0.90),(2821.40,0.89),(2821.48,0.00),
    (2821.84,0.00),(2821.90,0.68),(2822.01,0.62),(2822.12,0.45),(2822.26,0.33),(2822.41,0.23),(2822.56,0.21),(2822.70,0.22),
    (2822.85,0.33),(2823.00,0.44),(2823.11,0.52),(2823.21,0.48),(2823.33,0.43),(2823.45,0.41),(2823.58,0.38),(2823.73,0.35),
    (2823.78,0.00),(2825.00,0.00),
]

panels = [(alpha_lep_2600, hd101584_2600), (alpha_lep_2800, hd101584_2800)]

# ---------------- figure ----------------
plt.rcParams["font.family"] = ["DejaVu Sans"]
plt.rcParams["font.weight"] = 200
plt.rcParams["axes.labelweight"] = 200
W, H = 1230, 921
fig = plt.figure(figsize=(W / 100, H / 100), dpi=100)

ax_left = 91.7 / W
ax_width = (1229.0 - 91.7) / W
positions = [
    [ax_left, 1 - 372.3 / H, ax_width, (372.3 - 50.0) / H],
    [ax_left, 1 - 855.3 / H, ax_width, (855.3 - 533.6) / H],
]

for pos, (x0, x1), (alpha, hd) in zip(positions, x_ranges, panels):
    ax = fig.add_axes(pos)
    a = np.array(alpha)
    h = np.array(hd)
    ax.plot(a[:, 0], a[:, 1], color="black", lw=0.9)
    ax.plot(h[:, 0], h[:, 1], color="black", lw=0.9)
    ax.set_xlim(x0, x1)
    ax.set_ylim(0, 2.0)
    ax.xaxis.set_major_locator(MultipleLocator(10))
    ax.xaxis.set_minor_locator(MultipleLocator(1))
    ax.yaxis.set_major_locator(MultipleLocator(0.5))
    ax.yaxis.set_minor_locator(MultipleLocator(0.1))
    ax.yaxis.set_major_formatter(FormatStrFormatter("%.1f"))
    ax.tick_params(axis="both", which="both", direction="in", top=True, right=True,
                   width=0.8, colors="black", labelsize=16)
    ax.tick_params(axis="x", which="major", length=4.8, pad=9)
    ax.tick_params(axis="x", which="minor", length=2.4)
    ax.tick_params(axis="y", which="major", length=16, pad=4)
    ax.tick_params(axis="y", which="minor", length=8)
    for sp in ax.spines.values():
        sp.set_linewidth(1.0)
    ax.set_xlabel(x_label, fontsize=16, labelpad=2, fontweight=200)
    ax.set_ylabel(y_label, fontsize=15.5, labelpad=11, fontweight=200)
    ax.text(x0 + 1.0, 1.84, star_names[0], fontsize=20, va="center", ha="left")
    ax.text(x0 + 1.0, 0.845, star_names[1], fontsize=20, va="center", ha="left")

fig.text(645 / W, 1 - 35 / H, title, fontsize=26, ha="center", va="baseline")

fig.savefig("out.png", dpi=100)
